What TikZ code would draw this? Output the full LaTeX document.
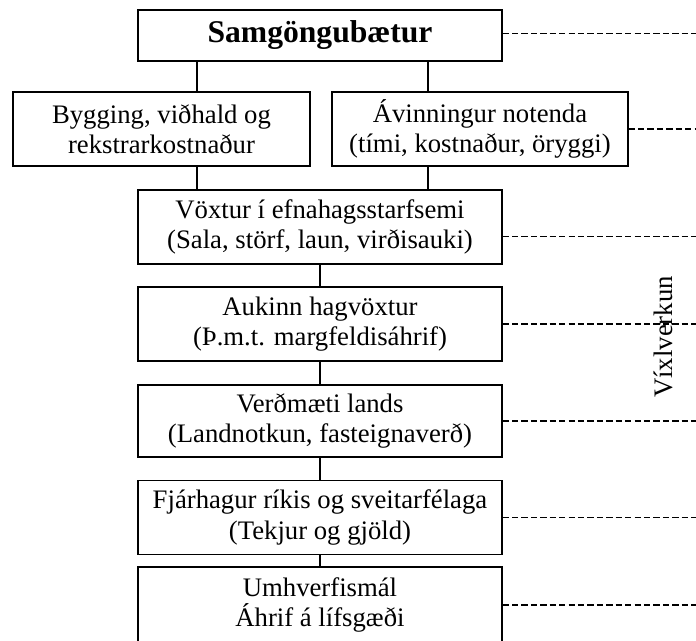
\documentclass[tikz,border=0pt]{standalone}
\usepackage{fontspec}
\setmainfont{Liberation Serif}
\begin{document}
\begin{tikzpicture}[line width=0.9pt,
  box/.style={draw, align=center, inner sep=0pt, minimum width=9.1cm, minimum height=1.85cm,
    font=\fontsize{19}{21.5}\selectfont},
  dashline/.style={line width=0.85pt, dash pattern=on 4.5pt off 2.2pt}]

\useasboundingbox (0,0) rectangle (17.4,16.025);
\clip (0,0) rectangle (17.4,16.025);
\coordinate (edge) at (17.4,0);

\node[box, minimum height=1.275cm, font=\fontsize{22.5}{25}\selectfont\bfseries] (samg) at (8,15.1375) {Samgöngubætur};

\node[box, minimum width=7.425cm] (bygg) at (4.0375,12.8) {Bygging, viðhald og\\rekstrarkostnaður};
\node[box, minimum width=7.4cm] (avinn) at (12,12.8) {Ávinningur notenda\\(tími, kostnaður, öryggi)};

\node[box] (voxt) at (8,10.35) {Vöxtur í efnahagsstarfsemi\\(Sala, störf, laun, virðisauki)};
\node[box] (hagv) at (8,7.925) {Aukinn hagvöxtur\\(Þ.m.t. margfeldisáhrif)};
\node[box, minimum height=1.8cm] (lands) at (8,5.5) {Verðmæti lands\\(Landnotkun, fasteignaverð)};
\node[box] (fjarh) at (8,3.0875) {Fjárhagur ríkis og sveitarfélaga\\(Tekjur og gjöld)};
\node[box, minimum height=1.9cm] (umhv) at (8,0.9) {Umhverfismál\\Áhrif á lífsgæði};

\node[rotate=90, font=\fontsize{19}{21.5}\selectfont] (vixl) at (16.575,7.6) {Víxlverkun};

% tengingar
\draw ([xshift=0.8875cm]bygg.north) -- ([xshift=0.8875cm]bygg.north |- samg.south);
\draw ([xshift=-1.3cm]avinn.north) -- ([xshift=-1.3cm]avinn.north |- samg.south);
\draw ([xshift=0.8875cm]bygg.south) -- ([xshift=0.8875cm]bygg.south |- voxt.north);
\draw ([xshift=-1.3cm]avinn.south) -- ([xshift=-1.3cm]avinn.south |- voxt.north);

\draw (voxt.south) -- (hagv.north);
\draw (hagv.south) -- (lands.north);
\draw (lands.south) -- (fjarh.north);
\draw (fjarh.south) -- (umhv.north);

% strikalinur
\draw[dashline] ([yshift=0.04cm]samg.east) -- ([yshift=0.04cm]samg.east -| edge);
\draw[dashline] (avinn.east) -- (avinn.east -| edge);
\draw[dashline] ([yshift=-0.24cm]voxt.east) -- ([yshift=-0.24cm]voxt.east -| edge);
\draw[dashline] (hagv.east) -- (hagv.east -| edge);
\draw[dashline] (lands.east) -- (lands.east -| edge);
\draw[dashline] (fjarh.east) -- (fjarh.east -| edge);
\draw[dashline] (umhv.east) -- (umhv.east -| edge);

\end{tikzpicture}
\end{document}
